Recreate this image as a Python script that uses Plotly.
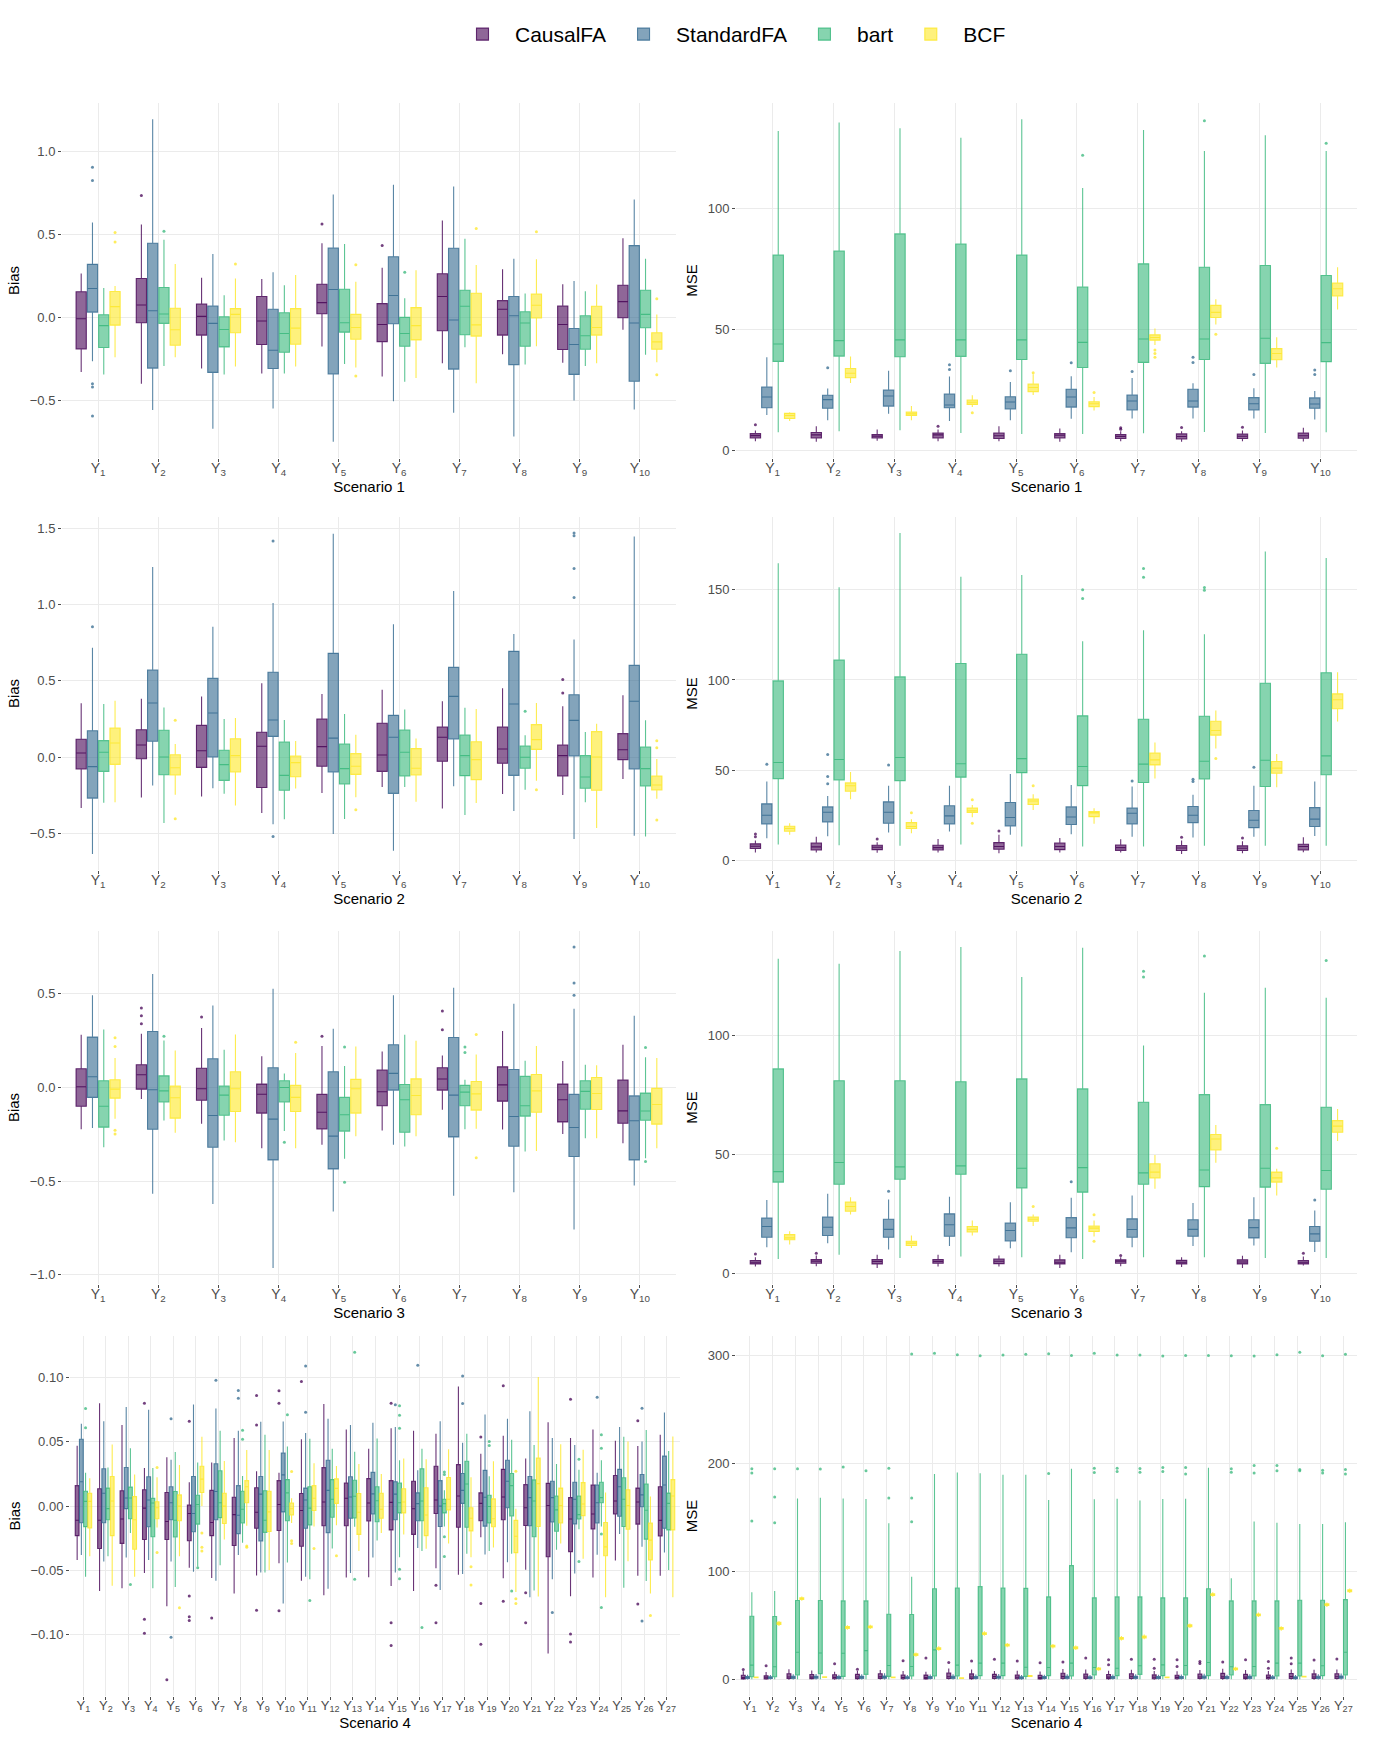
import plotly.graph_objects as go

W, H = 1386, 1748

methods = ["CausalFA", "StandardFA", "bart", "BCF"]
method_rgb = ["68,1,84", "49,104,142", "53,183,121", "253,231,37"]

# every row: [lower whisker, q1, median, q3, upper whisker], one row per outcome Y1..Yn

# ---------------- Scenario 1 : bias ----------------
s1_bias_cfa = [[-0.33, -0.19, -0.008, 0.155, 0.265], [-0.40, -0.032, 0.075, 0.235, 0.56],
               [-0.308, -0.107, 0.006, 0.081, 0.239], [-0.338, -0.164, -0.022, 0.126, 0.231],
               [-0.176, 0.022, 0.089, 0.20, 0.447], [-0.356, -0.146, -0.043, 0.083, 0.30],
               [-0.277, -0.081, 0.126, 0.263, 0.585], [-0.223, -0.107, 0.049, 0.101, 0.291],
               [-0.273, -0.194, -0.043, 0.069, 0.20], [-0.075, -0.002, 0.095, 0.194, 0.478]]
s1_bias_sfa = [[-0.265, 0.032, 0.174, 0.32, 0.573], [-0.559, -0.306, 0.04, 0.447, 1.196],
               [-0.672, -0.332, -0.036, 0.069, 0.383], [-0.549, -0.308, -0.198, 0.049, 0.273],
               [-0.751, -0.342, 0.168, 0.419, 0.741], [-0.506, -0.038, 0.132, 0.366, 0.80],
               [-0.575, -0.312, -0.016, 0.417, 0.79], [-0.719, -0.285, 0.01, 0.126, 0.354],
               [-0.502, -0.344, -0.164, -0.067, 0.219], [-0.555, -0.385, -0.034, 0.433, 0.711]]
s1_bias_bart = [[-0.344, -0.182, -0.05, 0.016, 0.178], [-0.294, -0.036, 0.02, 0.18, 0.468],
                [-0.344, -0.178, -0.073, 0.004, 0.134], [-0.338, -0.21, -0.097, 0.028, 0.194],
                [-0.281, -0.089, -0.032, 0.17, 0.443], [-0.389, -0.174, -0.097, 0.0, 0.115],
                [-0.18, -0.105, 0.067, 0.164, 0.474], [-0.285, -0.174, -0.034, 0.034, 0.144],
                [-0.294, -0.192, -0.111, 0.01, 0.158], [-0.225, -0.063, 0.018, 0.164, 0.354]]
s1_bias_bcf = [[-0.24, -0.047, 0.065, 0.156, 0.19], [-0.24, -0.168, -0.075, 0.055, 0.322],
               [-0.296, -0.093, 0.018, 0.053, 0.235], [-0.296, -0.162, -0.065, 0.053, 0.255],
               [-0.302, -0.132, -0.061, 0.018, 0.215], [-0.366, -0.136, -0.05, 0.059, 0.285],
               [-0.397, -0.113, -0.045, 0.146, 0.316], [-0.174, -0.004, 0.073, 0.14, 0.35],
               [-0.277, -0.107, -0.061, 0.067, 0.198], [-0.271, -0.192, -0.148, -0.093, 0.018]]
s1_bias_out = [("StandardFA", 1, 0.906), ("StandardFA", 1, 0.826), ("StandardFA", 1, -0.40),
               ("StandardFA", 1, -0.42), ("StandardFA", 1, -0.595), ("BCF", 1, 0.512), ("BCF", 1, 0.455),
               ("CausalFA", 2, 0.735), ("bart", 2, 0.52), ("BCF", 3, 0.322), ("CausalFA", 5, 0.563),
               ("BCF", 5, 0.318), ("BCF", 5, -0.354), ("CausalFA", 6, 0.433), ("bart", 6, 0.273),
               ("BCF", 7, 0.536), ("BCF", 8, 0.516), ("BCF", 10, 0.113), ("BCF", 10, -0.346)]

# ---------------- Scenario 1 : MSE ----------------
s1_mse_cfa = [[3.75, 5.1, 6.1, 6.9, 8.2], [3.5, 5.1, 6.4, 7.4, 10.0], [4.0, 5.1, 5.8, 6.5, 8.6],
              [3.75, 5.1, 6.4, 7.1, 8.6], [3.75, 4.9, 6.0, 7.2, 10.0], [3.5, 5.1, 6.25, 6.9, 9.0],
              [3.75, 4.9, 5.7, 6.5, 7.9], [3.5, 4.7, 5.7, 6.8, 7.9], [3.75, 4.9, 5.8, 6.7, 8.2],
              [3.6, 5.0, 6.0, 7.1, 9.3]]
s1_mse_sfa = [[14.6, 17.6, 22.1, 26.2, 38.5], [12.4, 17.4, 21.0, 22.8, 25.6], [15.1, 18.3, 22.5, 24.9, 32.9],
              [12.1, 17.6, 18.75, 23.3, 30.6], [12.4, 17.1, 20.0, 22.2, 28.3], [13.1, 17.9, 22.1, 25.3, 30.7],
              [13.2, 16.7, 20.4, 22.9, 29.9], [13.2, 17.9, 20.4, 25.3, 27.8], [13.2, 16.7, 19.3, 21.8, 25.7],
              [12.8, 17.4, 19.2, 21.7, 24.6]]
s1_mse_bart = [[7.5, 36.8, 44.0, 80.8, 132.2], [7.9, 39.0, 45.4, 82.5, 135.7], [8.3, 38.75, 45.7, 89.6, 133.3],
               [7.2, 38.9, 45.7, 85.4, 129.4], [6.8, 37.6, 45.7, 80.8, 137.1], [6.8, 34.3, 44.7, 67.6, 108.6],
               [7.1, 36.4, 46.1, 77.2, 132.6], [7.6, 37.6, 46.1, 75.8, 123.9], [7.2, 36.0, 46.4, 76.5, 130.4],
               [7.5, 36.7, 44.6, 72.4, 123.9]]
s1_mse_bcf = [[12.1, 13.2, 14.4, 15.3, 15.8], [27.9, 30.1, 31.9, 33.9, 38.8], [12.4, 14.4, 15.1, 15.8, 18.3],
              [17.9, 19.0, 19.9, 20.8, 22.8], [22.9, 24.3, 26.0, 27.4, 31.5], [16.5, 18.1, 19.3, 20.1, 22.1],
              [43.6, 45.6, 46.7, 47.8, 50.4], [52.1, 55.0, 57.1, 60.0, 62.5], [34.3, 37.5, 40.1, 42.1, 46.8],
              [58.3, 63.9, 66.9, 69.2, 75.8]]
s1_mse_out = [("CausalFA", 1, 10.6), ("CausalFA", 4, 10.0), ("CausalFA", 7, 9.3), ("CausalFA", 7, 8.75),
              ("CausalFA", 8, 9.4), ("CausalFA", 9, 9.6), ("StandardFA", 2, 34.2), ("StandardFA", 4, 35.4),
              ("StandardFA", 4, 33.5), ("StandardFA", 5, 32.9), ("StandardFA", 6, 36.25), ("StandardFA", 7, 32.6),
              ("StandardFA", 8, 38.5), ("StandardFA", 8, 36.4), ("StandardFA", 9, 31.4), ("StandardFA", 10, 33.2),
              ("StandardFA", 10, 31.4), ("bart", 6, 122.2), ("bart", 8, 136.4), ("bart", 10, 127.1),
              ("BCF", 4, 15.6), ("BCF", 5, 32.1), ("BCF", 6, 23.9), ("BCF", 7, 41.5), ("BCF", 7, 40.1),
              ("BCF", 7, 38.5), ("BCF", 8, 48.1)]

# ---------------- Scenario 2 : bias ----------------
s2_bias_cfa = [[-0.334, -0.079, 0.026, 0.116, 0.352], [-0.266, -0.011, 0.079, 0.179, 0.382],
               [-0.258, -0.068, 0.041, 0.207, 0.397], [-0.367, -0.20, 0.07, 0.162, 0.483],
               [-0.236, -0.061, 0.068, 0.249, 0.413], [-0.197, -0.094, 0.013, 0.221, 0.441],
               [-0.338, -0.028, 0.129, 0.197, 0.365], [-0.242, -0.041, 0.052, 0.197, 0.45],
               [-0.249, -0.124, 0.009, 0.079, 0.332], [-0.144, -0.017, 0.048, 0.153, 0.404]]
s2_bias_sfa = [[-0.635, -0.269, -0.063, 0.172, 0.716], [-0.186, 0.103, 0.354, 0.57, 1.245],
               [-0.205, 0.0, 0.288, 0.515, 0.854], [-0.441, 0.135, 0.242, 0.555, 1.009],
               [-0.504, -0.098, 0.124, 0.679, 1.463], [-0.614, -0.238, 0.129, 0.273, 0.869],
               [-0.192, 0.118, 0.397, 0.587, 1.087], [-0.354, -0.12, 0.347, 0.692, 0.806],
               [-0.537, 0.007, 0.24, 0.408, 0.769], [-0.515, -0.079, 0.365, 0.60, 1.445]]
s2_bias_bart = [[-0.299, -0.094, 0.031, 0.107, 0.347], [-0.432, -0.116, 0.0, 0.175, 0.325],
                [-0.24, -0.153, -0.05, 0.044, 0.249], [-0.408, -0.218, -0.12, 0.098, 0.242],
                [-0.406, -0.177, -0.076, 0.085, 0.282], [-0.197, -0.124, 0.031, 0.177, 0.312],
                [-0.38, -0.122, 0.009, 0.144, 0.323], [-0.214, -0.074, -0.002, 0.072, 0.142],
                [-0.297, -0.205, -0.131, 0.009, 0.164], [-0.52, -0.19, -0.076, 0.066, 0.24]]
s2_bias_bcf = [[-0.297, -0.048, 0.092, 0.19, 0.369], [-0.247, -0.118, -0.07, 0.015, 0.085],
               [-0.317, -0.098, 0.009, 0.12, 0.255], [-0.207, -0.129, -0.037, 0.007, 0.105],
               [-0.264, -0.114, -0.061, 0.022, 0.146], [-0.293, -0.118, -0.074, 0.055, 0.122],
               [-0.301, -0.148, -0.017, 0.10, 0.314], [-0.155, 0.05, 0.114, 0.212, 0.354],
               [-0.465, -0.218, 0.0, 0.166, 0.218], [-0.273, -0.216, -0.183, -0.124, -0.013]]
s2_bias_out = [("StandardFA", 1, 0.854), ("BCF", 2, 0.24), ("BCF", 2, -0.404), ("StandardFA", 4, 1.415),
               ("StandardFA", 4, -0.52), ("BCF", 5, -0.345), ("bart", 8, 0.299), ("BCF", 8, -0.214),
               ("CausalFA", 9, 0.507), ("CausalFA", 9, 0.419), ("StandardFA", 9, 1.467), ("StandardFA", 9, 1.45),
               ("StandardFA", 9, 1.234), ("StandardFA", 9, 1.044), ("BCF", 10, 0.107), ("BCF", 10, 0.061),
               ("BCF", 10, -0.413)]

# ---------------- Scenario 2 : MSE ----------------
s2_mse_cfa = [[4.3, 6.5, 7.8, 9.1, 10.9], [4.3, 5.7, 7.4, 9.6, 13.1], [4.1, 5.9, 7.2, 8.3, 10.0],
              [4.3, 5.7, 7.0, 8.3, 11.8], [3.9, 6.1, 7.6, 9.8, 14.1], [4.3, 5.9, 7.6, 9.6, 12.4],
              [4.3, 5.5, 7.0, 8.5, 11.7], [3.5, 5.4, 6.8, 8.1, 10.9], [3.9, 5.4, 6.7, 8.0, 10.5],
              [4.4, 5.7, 7.6, 8.9, 12.8]]
s2_mse_sfa = [[12.2, 20.2, 25.0, 31.3, 43.7], [13.3, 21.3, 26.6, 29.6, 35.7], [15.4, 20.5, 26.6, 32.4, 41.3],
              [15.9, 20.2, 24.6, 30.2, 41.3], [14.1, 19.1, 23.7, 32.0, 47.9], [14.4, 19.8, 24.0, 29.6, 41.8],
              [13.1, 20.2, 26.1, 28.9, 40.9], [12.6, 20.9, 25.0, 29.8, 36.3], [13.1, 18.1, 22.2, 27.6, 41.3],
              [13.5, 18.7, 22.8, 29.2, 43.7]]
s2_mse_bart = [[8.7, 45.3, 54.2, 99.5, 164.8], [8.3, 44.6, 55.9, 111.0, 151.5], [8.1, 44.2, 57.0, 101.7, 181.5],
               [8.7, 46.1, 53.5, 109.1, 157.2], [7.6, 48.6, 56.4, 114.3, 158.2], [7.6, 41.4, 52.0, 80.1, 121.5],
               [7.6, 43.1, 53.3, 78.2, 127.6], [8.1, 45.1, 54.9, 79.9, 125.4], [8.1, 40.9, 55.5, 98.2, 171.3],
               [8.1, 47.4, 57.9, 104.0, 167.6]]
s2_mse_bcf = [[14.1, 16.1, 17.6, 18.9, 20.5], [33.9, 38.3, 41.3, 42.9, 49.0], [15.0, 17.6, 18.7, 20.9, 22.8],
              [23.9, 26.5, 27.4, 28.9, 30.7], [27.9, 30.9, 32.9, 34.0, 36.6], [20.2, 24.2, 26.3, 27.0, 28.9],
              [45.3, 52.9, 55.7, 59.4, 65.3], [62.0, 69.4, 72.0, 77.1, 83.1], [40.5, 48.3, 51.1, 54.8, 59.0],
              [77.0, 84.0, 89.0, 92.3, 104.3]]
s2_mse_out = [("CausalFA", 1, 14.6), ("CausalFA", 1, 13.1), ("CausalFA", 3, 11.8), ("CausalFA", 5, 16.3),
              ("CausalFA", 8, 12.8), ("CausalFA", 9, 12.4), ("StandardFA", 1, 53.3), ("StandardFA", 2, 58.6),
              ("StandardFA", 2, 46.4), ("StandardFA", 2, 42.4), ("StandardFA", 3, 52.9), ("StandardFA", 7, 44.0),
              ("StandardFA", 8, 45.0), ("StandardFA", 8, 43.7), ("StandardFA", 9, 51.6), ("bart", 6, 150.0),
              ("bart", 6, 145.2), ("bart", 7, 161.9), ("bart", 7, 157.0), ("bart", 8, 151.3), ("bart", 8, 149.8),
              ("BCF", 3, 26.3), ("BCF", 4, 33.5), ("BCF", 4, 20.5), ("BCF", 5, 41.3), ("BCF", 8, 56.4)]

# ---------------- Scenario 3 : bias ----------------
s3_bias_cfa = [[-0.223, -0.1, 0.004, 0.1, 0.281], [-0.061, -0.009, 0.068, 0.121, 0.287],
               [-0.194, -0.068, -0.007, 0.103, 0.317], [-0.324, -0.137, -0.036, 0.018, 0.167],
               [-0.306, -0.221, -0.132, -0.037, 0.221], [-0.23, -0.098, -0.023, 0.093, 0.192],
               [-0.119, -0.014, 0.045, 0.105, 0.171], [-0.224, -0.073, 0.014, 0.11, 0.301],
               [-0.248, -0.184, -0.066, 0.018, 0.141], [-0.298, -0.191, -0.125, 0.039, 0.228]]
s3_bias_sfa = [[-0.217, -0.053, 0.057, 0.269, 0.492], [-0.568, -0.223, -0.012, 0.299, 0.606],
               [-0.622, -0.319, -0.15, 0.153, 0.438], [-0.964, -0.387, -0.169, 0.105, 0.527],
               [-0.663, -0.435, -0.26, 0.084, 0.314], [-0.306, -0.014, 0.075, 0.228, 0.492],
               [-0.579, -0.264, -0.041, 0.267, 0.533], [-0.559, -0.314, -0.155, 0.096, 0.447],
               [-0.759, -0.369, -0.214, -0.037, 0.42], [-0.524, -0.387, -0.178, -0.045, 0.383]]
s3_bias_bart = [[-0.319, -0.212, -0.1, 0.036, 0.31], [-0.176, -0.078, -0.018, 0.062, 0.251],
                [-0.283, -0.148, -0.041, 0.007, 0.201], [-0.233, -0.078, 0.0, 0.036, 0.075],
                [-0.381, -0.233, -0.146, -0.053, 0.114], [-0.315, -0.239, -0.066, 0.016, 0.281],
                [-0.223, -0.098, -0.025, 0.011, 0.041], [-0.342, -0.153, -0.098, 0.059, 0.143],
                [-0.271, -0.116, -0.021, 0.036, 0.121], [-0.378, -0.175, -0.126, -0.03, 0.162]]
s3_bias_bcf = [[-0.167, -0.057, -0.009, 0.041, 0.157], [-0.242, -0.164, -0.055, 0.007, 0.198],
               [-0.292, -0.128, -0.007, 0.084, 0.283], [-0.324, -0.128, -0.053, 0.011, 0.184],
               [-0.26, -0.137, -0.007, 0.043, 0.219], [-0.26, -0.146, -0.043, 0.046, 0.249],
               [-0.221, -0.121, -0.034, 0.032, 0.176], [-0.34, -0.132, -0.018, 0.069, 0.221],
               [-0.271, -0.118, -0.032, 0.053, 0.118], [-0.324, -0.196, -0.091, -0.005, 0.157]]
s3_bias_out = [("BCF", 1, 0.265), ("BCF", 1, 0.219), ("BCF", 1, -0.228), ("BCF", 1, -0.249),
               ("CausalFA", 2, 0.424), ("CausalFA", 2, 0.383), ("CausalFA", 2, 0.34), ("bart", 2, 0.273),
               ("CausalFA", 3, 0.376), ("bart", 4, -0.292), ("BCF", 4, 0.242), ("CausalFA", 5, 0.273),
               ("bart", 5, 0.216), ("bart", 5, -0.506), ("CausalFA", 7, 0.408), ("CausalFA", 7, 0.308),
               ("bart", 7, 0.216), ("bart", 7, 0.187), ("BCF", 7, 0.283), ("BCF", 7, -0.376),
               ("StandardFA", 9, 0.75), ("StandardFA", 9, 0.558), ("StandardFA", 9, 0.492),
               ("bart", 10, 0.214), ("bart", 10, -0.396)]

# ---------------- Scenario 3 : MSE ----------------
s3_mse_cfa = [[3.1, 4.2, 4.9, 5.6, 7.0], [3.2, 4.5, 5.3, 6.0, 7.7], [2.5, 4.2, 5.2, 6.0, 8.0],
              [3.1, 4.5, 5.2, 6.0, 8.0], [3.1, 4.3, 5.3, 6.2, 7.7], [2.5, 4.2, 4.9, 5.9, 8.0],
              [3.2, 4.5, 5.3, 5.9, 7.0], [2.9, 4.2, 4.9, 5.7, 7.0], [2.5, 4.2, 5.0, 5.9, 7.6],
              [3.5, 4.2, 4.9, 5.6, 7.3]]
s3_mse_sfa = [[11.2, 15.4, 19.9, 23.4, 31.0], [12.9, 16.1, 19.6, 23.8, 33.6], [10.2, 15.4, 18.7, 22.9, 31.2],
              [11.7, 15.8, 20.6, 25.2, 32.4], [10.8, 13.8, 18.2, 21.3, 30.1], [9.1, 15.2, 19.3, 23.6, 31.9],
              [11.2, 15.4, 18.6, 23.1, 32.9], [11.7, 15.8, 18.7, 22.7, 29.7], [11.9, 15.1, 19.4, 22.7, 32.2],
              [9.2, 13.7, 16.8, 19.9, 26.6]]
s3_mse_bart = [[6.3, 38.5, 42.9, 86.0, 132.2], [8.0, 37.6, 46.7, 81.0, 130.1], [6.7, 39.7, 44.9, 81.0, 135.4],
               [7.3, 41.8, 45.3, 80.6, 137.1], [7.0, 36.1, 44.3, 81.8, 124.5], [6.3, 34.3, 44.6, 77.6, 136.8],
               [7.0, 37.6, 42.4, 72.0, 95.8], [7.0, 36.6, 43.6, 75.2, 117.9], [6.7, 36.4, 44.3, 71.0, 120.0],
               [6.7, 35.5, 43.4, 69.9, 115.8]]
s3_mse_bcf = [[12.3, 14.3, 15.1, 16.5, 17.9], [24.9, 26.3, 28.3, 30.1, 32.2], [10.9, 11.9, 12.9, 13.7, 16.1],
              [16.1, 17.6, 18.7, 19.9, 22.4], [20.1, 22.1, 22.9, 23.8, 24.9], [15.7, 17.8, 19.2, 20.1, 22.4],
              [35.7, 40.3, 42.7, 46.2, 49.9], [46.6, 52.0, 56.6, 58.5, 62.5], [32.9, 38.5, 40.3, 42.7, 44.1],
              [55.7, 59.4, 62.0, 64.3, 69.2]]
s3_mse_out = [("CausalFA", 1, 8.4), ("CausalFA", 2, 8.7), ("CausalFA", 7, 7.7), ("CausalFA", 10, 8.7),
              ("StandardFA", 3, 34.7), ("StandardFA", 6, 38.7), ("StandardFA", 10, 31.0),
              ("bart", 7, 126.9), ("bart", 7, 124.5), ("bart", 8, 133.3), ("bart", 10, 131.5),
              ("BCF", 5, 28.3), ("BCF", 6, 24.8), ("BCF", 6, 13.7), ("BCF", 9, 52.7)]

# ---------------- Scenario 4 : bias ----------------
s4_bias_cfa = [[-0.042, -0.023, -0.011, 0.0159, 0.047], [-0.066, -0.033, -0.011, 0.0135, 0.080],
               [-0.064, -0.029, -0.010, 0.012, 0.063], [-0.052, -0.026, -0.0016, 0.0127, 0.0296],
               [-0.078, -0.026, -0.012, 0.0106, 0.038], [-0.048, -0.027, -0.0058, 0.0008, 0.0185],
               [-0.056, -0.023, -0.0127, 0.0122, 0.034], [-0.068, -0.0307, -0.0066, 0.0069, 0.053],
               [-0.054, -0.0172, -0.0048, 0.0143, 0.0272], [-0.0444, -0.019, 0.0013, 0.0198, 0.026],
               [-0.058, -0.0312, -0.0034, 0.0098, 0.052], [-0.0693, -0.0153, 0.0032, 0.0299, 0.0794],
               [-0.0556, -0.0153, 0.0061, 0.018, 0.0595], [-0.0553, -0.0116, 0.0024, 0.0214, 0.0447],
               [-0.0622, -0.0185, 0.0029, 0.0198, 0.0606], [-0.0661, -0.022, -0.0021, 0.0193, 0.0587],
               [-0.0484, -0.0058, 0.0048, 0.031, 0.0563], [-0.0534, -0.0164, 0.0079, 0.0323, 0.0931],
               [-0.0243, -0.0114, 0.0021, 0.0103, 0.0407], [-0.0561, -0.0106, 0.0071, 0.0286, 0.0548],
               [-0.0495, -0.0151, -0.0013, 0.0167, 0.037], [-0.1146, -0.0394, 0.0005, 0.0177, 0.0653],
               [-0.0701, -0.0354, -0.010, 0.0066, 0.0529], [-0.0556, -0.0177, -0.0061, 0.0164, 0.0595],
               [-0.0423, -0.0061, 0.004, 0.0238, 0.0508], [-0.0542, -0.014, 0.0032, 0.014, 0.0468],
               [-0.0542, -0.0233, -0.0111, 0.0151, 0.0556]]
s4_bias_sfa = [[-0.038, -0.013, 0.019, 0.052, 0.064], [-0.043, -0.013, 0.010, 0.029, 0.066],
               [-0.040, -0.002, 0.0063, 0.030, 0.077], [-0.042, -0.0161, 0.0048, 0.0228, 0.075],
               [-0.043, -0.0106, 0.0026, 0.015, 0.036], [-0.051, -0.020, -0.0058, 0.023, 0.079],
               [-0.058, -0.0106, 0.0114, 0.033, 0.076], [-0.038, -0.0214, -0.0071, 0.0159, 0.0587],
               [-0.0516, -0.0272, 0.0093, 0.023, 0.0656], [-0.0757, -0.0045, 0.0243, 0.0413, 0.0659],
               [-0.055, -0.0172, 0.0048, 0.014, 0.0569], [-0.0643, -0.0206, 0.0122, 0.0357, 0.068],
               [-0.052, -0.0095, 0.0071, 0.0228, 0.063], [-0.040, -0.0061, 0.0095, 0.0262, 0.0648],
               [-0.0516, -0.0106, 0.0093, 0.019, 0.0616], [-0.0325, -0.0114, 0.0019, 0.0103, 0.0278],
               [-0.0653, -0.0159, 0.0, 0.0198, 0.0661], [-0.0529, 0.0021, 0.0122, 0.0254, 0.0492],
               [-0.0376, -0.0156, 0.0069, 0.0278, 0.0712], [-0.0437, -0.0013, 0.0193, 0.0357, 0.068],
               [-0.0709, -0.0153, 0.0066, 0.023, 0.0738], [-0.0569, -0.0124, 0.0066, 0.0193, 0.0529],
               [-0.0524, -0.0138, 0.0053, 0.0185, 0.0476], [-0.0378, -0.0132, 0.0026, 0.0164, 0.0259],
               [-0.0217, -0.0079, 0.0151, 0.0286, 0.0616], [-0.0317, -0.0005, 0.0087, 0.0246, 0.0503],
               [-0.036, -0.0172, 0.0164, 0.0389, 0.0728]]
s4_bias_bart = [[-0.055, -0.016, 0.0037, 0.0116, 0.026], [-0.039, -0.0106, -0.002, 0.014, 0.030],
                [-0.021, -0.0098, 0.0063, 0.0148, 0.045], [-0.064, -0.0238, 0.0024, 0.006, 0.0296],
                [-0.063, -0.024, -0.011, 0.0114, 0.042], [-0.047, -0.014, 0.0013, 0.0085, 0.034],
                [-0.046, -0.009, 0.0026, 0.0275, 0.0587], [-0.0286, -0.0132, -0.0024, 0.0116, 0.0235],
                [-0.0516, -0.0204, -0.011, 0.0119, 0.0556], [-0.0439, -0.0114, 0.0103, 0.0206, 0.0463],
                [-0.0569, -0.0146, -0.0016, 0.0151, 0.0524], [-0.033, -0.0087, 0.0053, 0.0206, 0.0447],
                [-0.016, -0.0093, 0.0077, 0.0201, 0.0423], [-0.0267, -0.0122, 0.0042, 0.0151, 0.0526],
                [-0.0397, -0.0053, 0.0026, 0.018, 0.0357], [-0.0349, -0.0114, 0.004, 0.0291, 0.0447],
                [-0.0159, -0.0053, 0.0019, 0.0053, 0.0124], [-0.037, -0.0164, 0.0172, 0.0349, 0.0563],
                [-0.0349, -0.0132, -0.0003, 0.0085, 0.0233], [-0.037, -0.0077, 0.0159, 0.0254, 0.0516],
                [-0.0656, -0.0238, 0.004, 0.0204, 0.0476], [-0.0339, -0.0196, -0.0029, 0.0079, 0.0328],
                [-0.018, -0.010, -0.0066, 0.0079, 0.0283], [-0.0159, 0.0026, 0.0066, 0.0185, 0.0357],
                [-0.0635, -0.0159, 0.0053, 0.022, 0.054], [-0.0582, -0.0257, -0.0032, 0.0172, 0.0593],
                [-0.0497, -0.0185, 0.0021, 0.0101, 0.0429]]
s4_bias_bcf = [[-0.039, -0.017, 0.0037, 0.010, 0.0217], [-0.062, -0.023, 0.004, 0.023, 0.048],
               [-0.055, -0.0336, -0.0106, 0.0074, 0.0246], [-0.0167, -0.0098, -0.0013, 0.0034, 0.0225],
               [-0.039, -0.0114, 0.0, 0.0087, 0.032], [0.0, 0.0106, 0.021, 0.031, 0.054],
               [-0.026, -0.0135, 0.0, 0.010, 0.035], [-0.0153, 0.0026, 0.015, 0.0198, 0.0437],
               [-0.0497, -0.0198, -0.0045, 0.0116, 0.0437], [-0.0132, -0.0069, -0.0021, 0.0024, 0.0061],
               [-0.0159, -0.0034, 0.0061, 0.0159, 0.0333], [-0.0148, 0.0021, 0.0138, 0.0212, 0.0312],
               [-0.035, -0.022, -0.0048, 0.0098, 0.0328], [-0.0209, -0.0095, -0.0024, 0.010, 0.0249],
               [-0.022, -0.0053, 0.0032, 0.0135, 0.037], [-0.0331, -0.023, -0.0069, 0.0143, 0.0365],
               [-0.0291, -0.0029, 0.0053, 0.0222, 0.0442], [-0.0397, -0.0193, -0.0095, -0.0013, 0.0225],
               [-0.0323, -0.0161, -0.0098, 0.0056, 0.0349], [-0.0669, -0.0362, -0.0235, -0.0111, -0.0021],
               [-0.0704, -0.0159, 0.0175, 0.0373, 0.1005], [-0.0291, -0.0132, 0.0005, 0.014, 0.0481],
               [-0.041, -0.0074, 0.0016, 0.0183, 0.0439], [-0.0709, -0.0386, -0.0317, -0.0127, 0.0106],
               [-0.0429, -0.018, 0.0005, 0.0127, 0.0503], [-0.068, -0.0418, -0.0265, -0.0132, 0.0074],
               [-0.0709, -0.0185, 0.0079, 0.0206, 0.0542]]
s4_bias_out = [("CausalFA", 4, 0.080), ("CausalFA", 4, -0.088), ("CausalFA", 4, -0.099), ("CausalFA", 5, -0.135),
               ("CausalFA", 6, 0.066), ("CausalFA", 6, -0.070), ("CausalFA", 6, -0.086), ("CausalFA", 6, -0.089),
               ("CausalFA", 7, -0.087), ("CausalFA", 9, 0.086), ("CausalFA", 9, 0.063), ("CausalFA", 9, -0.081),
               ("CausalFA", 10, 0.0897), ("CausalFA", 10, 0.080), ("CausalFA", 10, -0.0815), ("CausalFA", 11, 0.097),
               ("CausalFA", 15, 0.080), ("CausalFA", 15, -0.0907), ("CausalFA", 15, -0.1085),
               ("CausalFA", 17, -0.0616), ("CausalFA", 17, -0.0907), ("CausalFA", 19, 0.0537),
               ("CausalFA", 19, -0.0757), ("CausalFA", 19, -0.1074), ("CausalFA", 20, 0.0937),
               ("CausalFA", 20, -0.0741), ("CausalFA", 21, -0.0675), ("CausalFA", 21, -0.0907),
               ("CausalFA", 23, 0.0831), ("CausalFA", 23, -0.0995), ("CausalFA", 23, -0.1058),
               ("CausalFA", 26, 0.0664), ("CausalFA", 26, -0.0762),
               ("StandardFA", 5, 0.068), ("StandardFA", 5, -0.102), ("StandardFA", 7, 0.098),
               ("StandardFA", 8, 0.090), ("StandardFA", 8, 0.084), ("StandardFA", 11, 0.109),
               ("StandardFA", 11, 0.073), ("StandardFA", 15, 0.0788), ("StandardFA", 16, 0.1095),
               ("StandardFA", 18, 0.1013), ("StandardFA", 18, 0.0799), ("StandardFA", 22, -0.0828),
               ("StandardFA", 24, 0.0847), ("StandardFA", 26, 0.0762), ("StandardFA", 26, -0.0894),
               ("bart", 1, 0.076), ("bart", 1, 0.061), ("bart", 3, -0.061), ("bart", 6, -0.048),
               ("bart", 8, 0.059), ("bart", 8, 0.052), ("bart", 10, 0.071), ("bart", 11, -0.0735),
               ("bart", 13, 0.1196), ("bart", 13, -0.0569), ("bart", 15, 0.078), ("bart", 15, 0.0706),
               ("bart", 15, 0.0606), ("bart", 15, -0.0492), ("bart", 15, -0.0566), ("bart", 16, -0.0944),
               ("bart", 17, 0.0265), ("bart", 17, 0.0246), ("bart", 17, -0.0238), ("bart", 17, -0.0392),
               ("bart", 19, 0.0503), ("bart", 19, 0.0471), ("bart", 20, -0.0661), ("bart", 23, 0.0365),
               ("bart", 23, -0.0431), ("bart", 24, 0.0556), ("bart", 24, 0.045), ("bart", 24, -0.0217),
               ("bart", 24, -0.0788),
               ("BCF", 4, 0.030), ("BCF", 4, -0.036), ("BCF", 5, -0.079), ("BCF", 6, -0.021), ("BCF", 6, -0.032),
               ("BCF", 6, -0.035), ("BCF", 8, -0.031), ("BCF", 8, -0.032), ("BCF", 10, 0.027), ("BCF", 10, -0.027),
               ("BCF", 10, -0.029), ("BCF", 11, -0.033), ("BCF", 12, -0.0386), ("BCF", 18, -0.0471),
               ("BCF", 18, -0.0614), ("BCF", 20, 0.0272), ("BCF", 20, -0.072), ("BCF", 20, -0.0757),
               ("BCF", 26, -0.0852)]

# ---------------- Scenario 4 : MSE ----------------
s4_mse_cfa = [[0.1, 0.8, 2.0, 4.2, 7.8], [0.1, 0.7, 1.8, 3.6, 7.2], [0.1, 1.1, 2.6, 5.6, 9.8],
              [0.2, 1.0, 2.4, 4.9, 8.6], [0.1, 0.9, 2.2, 4.6, 7.5], [0.1, 1.0, 2.5, 5.0, 8.2],
              [0.2, 1.2, 2.7, 5.5, 9.0], [0.1, 0.9, 2.1, 4.4, 8.1], [0.1, 0.8, 2.0, 4.3, 7.4],
              [0.2, 1.1, 2.8, 6.2, 10.5], [0.1, 1.0, 2.6, 5.4, 9.4], [0.2, 1.2, 2.9, 5.0, 8.0],
              [0.1, 0.9, 2.3, 4.4, 8.3], [0.1, 0.8, 2.0, 4.0, 7.6], [0.2, 1.3, 3.0, 6.0, 10.0],
              [0.1, 1.1, 2.5, 5.2, 9.5], [0.1, 1.0, 2.4, 4.8, 8.4], [0.2, 1.2, 2.8, 5.6, 9.2],
              [0.1, 0.9, 2.3, 4.5, 8.0], [0.1, 0.9, 2.2, 4.2, 7.9], [0.2, 1.1, 2.6, 5.3, 9.1],
              [0.1, 1.2, 2.7, 5.9, 10.2], [0.1, 1.0, 2.4, 5.0, 9.0], [0.1, 0.9, 2.2, 4.4, 8.2],
              [0.2, 1.2, 2.9, 5.8, 9.6], [0.1, 1.1, 2.6, 5.4, 9.3], [0.2, 1.2, 2.8, 5.5, 9.4]]
s4_mse_sfa = [[0.3, 1.2, 2.0, 2.9, 4.6], [0.2, 1.1, 1.9, 2.8, 4.4], [0.3, 1.3, 2.1, 3.1, 5.0],
              [0.3, 1.4, 2.3, 3.3, 5.4], [0.2, 1.2, 2.0, 2.9, 4.7], [0.3, 1.3, 2.2, 3.2, 5.1],
              [0.3, 1.4, 2.4, 3.5, 5.9], [0.2, 1.1, 1.9, 2.8, 4.5], [0.2, 1.2, 2.0, 3.0, 4.8],
              [0.3, 1.3, 2.1, 3.1, 5.0], [0.3, 1.2, 2.0, 3.0, 4.9], [0.3, 1.4, 2.3, 3.3, 5.3],
              [0.1, 1.0, 1.8, 2.7, 4.3], [0.2, 1.2, 2.0, 2.9, 4.7], [0.3, 1.3, 2.2, 3.2, 5.2],
              [0.2, 1.1, 1.9, 2.8, 4.4], [0.2, 1.2, 2.0, 3.0, 4.8], [0.3, 1.3, 2.2, 3.2, 5.1],
              [0.2, 1.1, 1.9, 2.9, 4.6], [0.2, 1.2, 2.1, 3.0, 4.9], [0.3, 1.4, 2.3, 3.4, 5.5],
              [0.2, 1.2, 2.0, 2.9, 4.7], [0.3, 1.3, 2.2, 3.2, 5.2], [0.2, 1.1, 1.9, 2.8, 4.5],
              [0.1, 1.0, 1.8, 2.7, 4.3], [0.3, 1.3, 2.1, 3.1, 5.0], [0.3, 1.4, 2.4, 3.5, 5.7]]
s4_mse_bart = [[0.4, 2.8, 13.5, 58.8, 81.1], [0.4, 2.8, 12.0, 58.5, 82.1], [0.5, 4.4, 25.5, 73.3, 167.9],
               [0.5, 5.7, 24.8, 73.3, 168.6], [0.4, 3.1, 24.5, 73.0, 167.9], [0.5, 5.0, 27.0, 73.0, 167.3],
               [0.4, 3.1, 13.2, 60.7, 145.0], [0.4, 3.5, 12.3, 60.4, 95.3], [0.4, 3.5, 27.7, 84.3, 190.6],
               [0.4, 3.5, 13.5, 84.9, 191.8], [0.4, 3.8, 15.4, 86.2, 191.2], [0.4, 3.8, 15.4, 84.9, 189.9],
               [0.4, 3.1, 11.6, 84.6, 189.9], [0.4, 3.8, 11.3, 76.7, 166.4], [0.4, 3.5, 15.4, 105.7, 195.3],
               [0.5, 4.4, 11.3, 75.8, 167.0], [0.4, 3.8, 10.7, 76.7, 167.6], [0.5, 5.0, 12.9, 76.7, 166.0],
               [0.4, 3.8, 13.8, 75.8, 167.3], [0.5, 4.4, 13.2, 75.8, 167.6], [0.4, 3.8, 16.0, 84.3, 196.2],
               [0.5, 4.4, 12.0, 73.0, 94.0], [0.4, 3.5, 12.3, 73.0, 146.5], [0.4, 3.5, 15.4, 73.0, 145.3],
               [0.4, 3.5, 15.4, 73.6, 144.3], [0.4, 3.8, 12.9, 73.6, 144.3], [0.5, 4.4, 25.5, 74.2, 145.9]]
s4_mse_bcf = [[1.4, 1.9, 2.2, 2.5, 2.9], [49.8, 51.2, 52.2, 53.1, 54.3], [73.1, 74.4, 75.2, 75.9, 77.0],
              [1.7, 2.2, 2.5, 2.8, 3.2], [46.2, 47.6, 48.4, 49.2, 50.5], [46.9, 48.2, 49.0, 49.7, 51.0],
              [1.5, 1.9, 2.2, 2.5, 2.9], [21.4, 22.6, 23.3, 24.0, 25.2], [26.8, 28.1, 28.9, 29.6, 30.9],
              [1.0, 1.3, 1.6, 1.9, 2.3], [40.7, 42.0, 42.8, 43.5, 44.8], [30.2, 31.4, 32.1, 32.8, 34.0],
              [2.6, 3.1, 3.5, 3.9, 4.4], [29.0, 30.3, 31.1, 31.9, 33.2], [27.5, 28.8, 29.6, 30.4, 31.7],
              [8.3, 9.4, 10.1, 10.8, 11.9], [36.3, 37.6, 38.4, 39.1, 40.4], [37.4, 38.8, 39.6, 40.4, 41.8],
              [1.5, 1.9, 2.2, 2.5, 2.9], [48.0, 49.2, 50.0, 50.8, 52.1], [76.8, 78.1, 78.9, 79.6, 80.9],
              [8.2, 9.4, 10.1, 10.8, 12.0], [58.0, 59.3, 60.1, 60.9, 62.2], [45.4, 46.7, 47.5, 48.3, 49.6],
              [2.0, 2.5, 2.8, 3.1, 3.6], [67.3, 68.7, 69.5, 70.3, 71.6], [80.2, 81.6, 82.4, 83.2, 84.5]]
s4_mse_out = [("CausalFA", 1, 9.4), ("CausalFA", 2, 12.9), ("CausalFA", 5, 14.8), ("CausalFA", 6, 9.7),
              ("CausalFA", 8, 17.6), ("CausalFA", 9, 20.1), ("CausalFA", 10, 16.0), ("CausalFA", 11, 17.3),
              ("CausalFA", 12, 18.9), ("CausalFA", 13, 17.3), ("CausalFA", 14, 15.7), ("CausalFA", 15, 16.4),
              ("CausalFA", 16, 20.1), ("CausalFA", 17, 18.6), ("CausalFA", 17, 13.8), ("CausalFA", 18, 18.9),
              ("CausalFA", 19, 18.9), ("CausalFA", 19, 10.7), ("CausalFA", 20, 18.6), ("CausalFA", 20, 12.3),
              ("CausalFA", 21, 17.0), ("CausalFA", 21, 15.1), ("CausalFA", 22, 16.4), ("CausalFA", 23, 18.6),
              ("CausalFA", 24, 17.0), ("CausalFA", 24, 10.7), ("CausalFA", 25, 20.1), ("CausalFA", 25, 14.8),
              ("CausalFA", 26, 18.2), ("CausalFA", 27, 19.2),
              ("bart", 1, 195.3), ("bart", 1, 191.5), ("bart", 1, 146.9), ("bart", 2, 195.3), ("bart", 2, 169.2),
              ("bart", 2, 145.3), ("bart", 3, 195.3), ("bart", 4, 195.0), ("bart", 5, 196.9), ("bart", 6, 193.4),
              ("bart", 7, 195.9), ("bart", 7, 168.2), ("bart", 8, 301.6), ("bart", 8, 168.2), ("bart", 8, 146.2),
              ("bart", 9, 302.2), ("bart", 10, 300.9), ("bart", 11, 300.0), ("bart", 12, 300.6),
              ("bart", 13, 301.3), ("bart", 14, 301.9), ("bart", 14, 190.9), ("bart", 15, 300.3),
              ("bart", 16, 302.2), ("bart", 16, 195.9), ("bart", 16, 191.8), ("bart", 17, 300.6),
              ("bart", 17, 195.9), ("bart", 17, 192.8), ("bart", 18, 300.6), ("bart", 18, 195.6),
              ("bart", 18, 192.1), ("bart", 19, 299.7), ("bart", 19, 196.5), ("bart", 19, 192.8),
              ("bart", 20, 300.3), ("bart", 20, 196.5), ("bart", 20, 190.6), ("bart", 21, 300.3),
              ("bart", 22, 300.0), ("bart", 22, 195.3), ("bart", 22, 192.1), ("bart", 23, 299.7),
              ("bart", 23, 198.4), ("bart", 23, 191.5), ("bart", 24, 300.9), ("bart", 24, 198.4),
              ("bart", 24, 193.4), ("bart", 25, 303.1), ("bart", 25, 194.7), ("bart", 25, 193.4),
              ("bart", 26, 300.0), ("bart", 26, 194.0), ("bart", 26, 191.5), ("bart", 27, 301.3),
              ("bart", 27, 194.7), ("bart", 27, 190.6)]

# panel layout in pixels (left, right, top, bottom)
panels = [
    ([s1_bias_cfa, s1_bias_sfa, s1_bias_bart, s1_bias_bcf], s1_bias_out, "Bias", "Scenario 1", 0.5, ".1f", (62, 676, 103, 458)),
    ([s1_mse_cfa, s1_mse_sfa, s1_mse_bart, s1_mse_bcf], s1_mse_out, "MSE", "Scenario 1", 50, "d", (736, 1357, 103, 458)),
    ([s2_bias_cfa, s2_bias_sfa, s2_bias_bart, s2_bias_bcf], s2_bias_out, "Bias", "Scenario 2", 0.5, ".1f", (62, 676, 517, 870)),
    ([s2_mse_cfa, s2_mse_sfa, s2_mse_bart, s2_mse_bcf], s2_mse_out, "MSE", "Scenario 2", 50, "d", (736, 1357, 517, 870)),
    ([s3_bias_cfa, s3_bias_sfa, s3_bias_bart, s3_bias_bcf], s3_bias_out, "Bias", "Scenario 3", 0.5, ".1f", (62, 676, 931, 1284)),
    ([s3_mse_cfa, s3_mse_sfa, s3_mse_bart, s3_mse_bcf], s3_mse_out, "MSE", "Scenario 3", 50, "d", (736, 1357, 931, 1284)),
    ([s4_bias_cfa, s4_bias_sfa, s4_bias_bart, s4_bias_bcf], s4_bias_out, "Bias", "Scenario 4", 0.05, ".2f", (70, 680, 1336, 1696)),
    ([s4_mse_cfa, s4_mse_sfa, s4_mse_bart, s4_mse_bcf], s4_mse_out, "MSE", "Scenario 4", 100, "d", (736, 1357, 1336, 1696)),
]

FONT = "Liberation Sans, Arial, sans-serif"
DODGE = 0.1875   # spacing of the four dodged boxes
BOX_W = 0.17

fig = go.Figure()
layout = {}

for p, (series, outs, ytitle, xtitle, dtick, fmt, px) in enumerate(panels):
    k = p + 1
    xa = "x" if k == 1 else f"x{k}"
    ya = "y" if k == 1 else f"y{k}"
    n = len(series[0])
    allv = []
    for j, m in enumerate(methods):
        st = series[j]
        col = method_rgb[j]
        pos = [i + (j - 1.5) * DODGE for i in range(n)]
        fig.add_trace(go.Box(
            x=pos,
            lowerfence=[s[0] for s in st], q1=[s[1] for s in st], median=[s[2] for s in st],
            q3=[s[3] for s in st], upperfence=[s[4] for s in st],
            width=BOX_W, whiskerwidth=0, boxpoints=False,
            fillcolor=f"rgba({col},0.6)",
            line=dict(color=f"rgba({col},0.8)", width=1.1),
            name=m, legendgroup=m, showlegend=(p == 0),
            xaxis=xa, yaxis=ya, hoverinfo="skip",
        ))
        allv += [s[0] for s in st] + [s[4] for s in st]
        ox = [o[1] - 1 + (j - 1.5) * DODGE for o in outs if o[0] == m]
        oy = [o[2] for o in outs if o[0] == m]
        allv += oy
        if ox:
            fig.add_trace(go.Scatter(
                x=ox, y=oy, mode="markers",
                marker=dict(size=3, color=f"rgba({col},0.75)"),
                showlegend=False, legendgroup=m, xaxis=xa, yaxis=ya, hoverinfo="skip",
            ))
    lo, hi = min(allv), max(allv)
    pad = 0.05 * (hi - lo)
    left, right, top, bottom = px
    layout["xaxis" if k == 1 else f"xaxis{k}"] = dict(
        domain=[left / W, right / W], anchor=ya,
        range=[-0.6, n - 0.4], tickmode="array",
        tickvals=list(range(n)), ticktext=[f"Y<sub>{i + 1}</sub>" for i in range(n)],
        tickangle=0, ticklabelstandoff=-6,
        showgrid=True, gridcolor="#EBEBEB", gridwidth=1, zeroline=False, showline=False,
        ticks="outside", ticklen=3, tickwidth=1, tickcolor="#4D4D4D",
        tickfont=dict(family=FONT, size=14 if n < 20 else 13, color="#4D4D4D"),
        title=dict(text=xtitle, font=dict(family=FONT, size=15, color="black"), standoff=2),
        automargin=False,
    )
    layout["yaxis" if k == 1 else f"yaxis{k}"] = dict(
        domain=[1 - bottom / H, 1 - top / H], anchor=xa,
        range=[lo - pad, hi + pad], tick0=0, dtick=dtick, tickformat=fmt,
        showgrid=True, gridcolor="#EBEBEB", gridwidth=1, zeroline=False, showline=False,
        ticks="outside", ticklen=3, tickwidth=1, tickcolor="#4D4D4D",
        tickfont=dict(family=FONT, size=13, color="#4D4D4D"),
        title=dict(text=ytitle, font=dict(family=FONT, size=15, color="black"), standoff=6),
        automargin=False,
    )

fig.update_layout(
    width=W, height=H,
    margin=dict(l=0, r=0, t=0, b=0),
    paper_bgcolor="white", plot_bgcolor="white",
    boxmode="overlay",
    font=dict(family=FONT),
    legend=dict(orientation="h", x=450 / W, xanchor="left", y=1 - 14 / H, yanchor="top",
                font=dict(family=FONT, size=21, color="black"), itemwidth=55,
                bgcolor="rgba(0,0,0,0)"),
    **layout,
)

fig.write_html("out.html", config={"displayModeBar": False},
               post_script="document.body.style.margin = '0';")
